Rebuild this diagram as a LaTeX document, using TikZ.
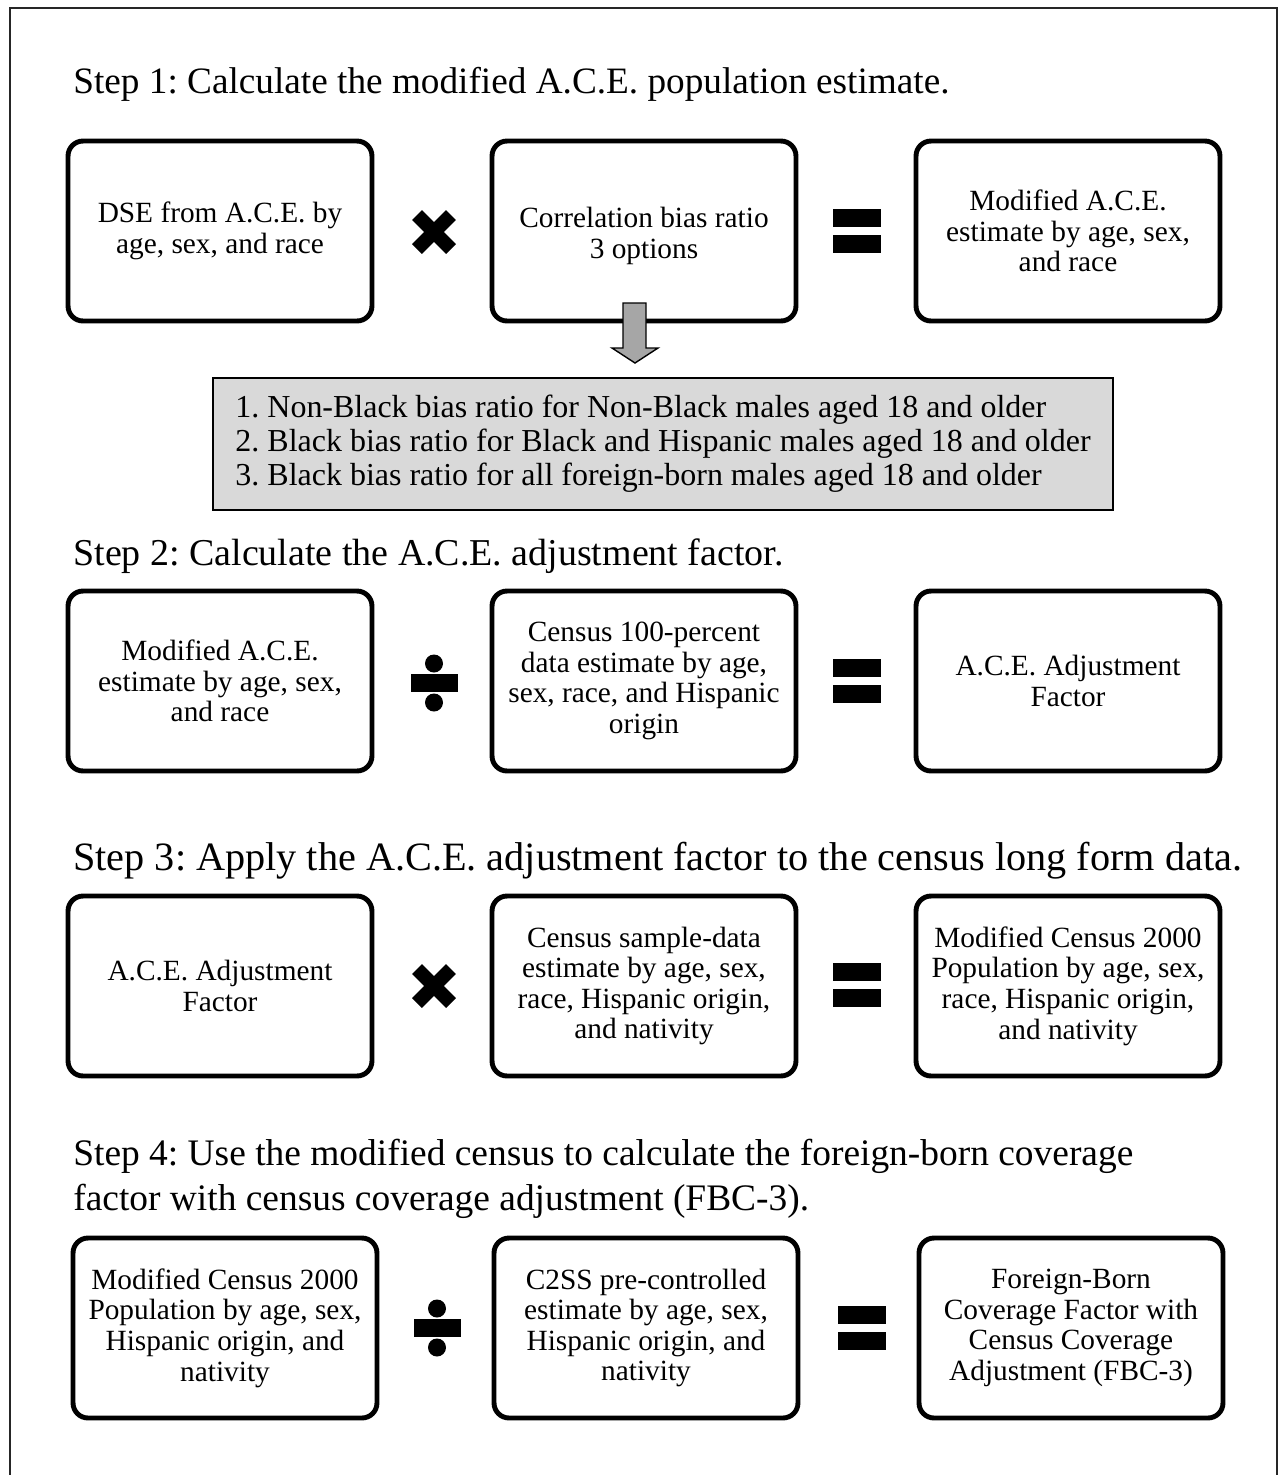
\documentclass[tikz,border=0pt]{standalone}
\usepackage{fontspec}
\setmainfont{Liberation Serif}
\usetikzlibrary{positioning}
\definecolor{optgray}{HTML}{D9D9D9}
\definecolor{arrgray}{HTML}{A6A6A6}
\tikzset{
    % operator signs, drawn at their centre
    timesop/.pic = {
      \draw[line width=0.28cm] (-17,-17) -- (17,17) (-17,17) -- (17,-17);
    },
    eqop/.pic = {
      \fill (-24,-22) rectangle (24,-4);
      \fill (-24,4) rectangle (24,22);
    },
    divop/.pic = {
      \fill (-23.5,-9) rectangle (23.5,9);
      \fill (0,-19.5) circle (0.18cm);
      \fill (0,19.5) circle (0.18cm);
    },
}
\frenchspacing

\begin{document}
\begin{tikzpicture}[x=0.02cm, y=-0.02cm,
    box/.style = {draw, line width=2.8pt, rounded corners=0.3cm, align=center,
                  minimum width=6.08cm, minimum height=3.6cm, inner sep=2pt,
                  font=\fontsize{16.7}{17.4}\selectfont},
    steptxt/.style = {anchor=base west, inner sep=0pt, align=left,
                      font=\fontsize{#1}{25.5}\selectfont},
    steptxt/.default = 21.2,
    optbox/.style = {draw, line width=0.8pt, fill=optgray, align=left,
                     minimum width=18cm, minimum height=2.64cm,
                     font=\fontsize{18.2}{19.4}\selectfont},
  ]
  \useasboundingbox (0,0) rectangle (1279,1475);
  \draw[line width=1.1pt, black!85] (10,1475) -- (10,8) -- (1277,8) -- (1277,1475);

  % Step 1
  \node[steptxt] (step1) at (73,93) {Step 1: Calculate the modified A.C.E. population estimate.};
  \node[box] (dse) at (220,231) {DSE from A.C.E. by\\age, sex, and race};
  \node[box] (corr) at (644,231) {\mbox{}\\Correlation bias ratio\\3 options};
  \node[box] (modace) at (1068,231) {Modified A.C.E.\\estimate by age, sex,\\and race};
  \pic at (434,232) {timesop};
  \pic at (857,231) {eqop};
  \node[optbox] (opts) at (663,444) {1. Non-Black bias ratio for Non-Black males aged 18 and older\\
    2. Black bias ratio for Black and Hispanic males aged 18 and older\\
    3. Black bias ratio for all foreign-born males aged 18 and older};
  \draw[line width=0.8pt, fill=arrgray] (623,303) -- (646,303) -- (646,348) -- (658,348)
    -- (635,363) -- (612,348) -- (623,348) -- cycle;

  % Step 2
  \node[steptxt=21.6] (step2) at (73,565) {Step 2: Calculate the A.C.E. adjustment factor.};
  \node[box] (modace2) at (220,681) {Modified A.C.E.\\estimate by age, sex,\\and race};
  \node[box] (cen100) at (644,681) {Census 100-percent\\data estimate by age,\\sex, race, and Hispanic\\origin};
  \node[box] (adj) at (1068,681) {A.C.E. Adjustment\\Factor};
  \pic at (434,683) {divop};
  \pic at (857,681) {eqop};

  % Step 3
  \node[steptxt=22.9] (step3) at (73,870) {Step 3: Apply the A.C.E. adjustment factor to the census long form data.};
  \node[box] (adj2) at (220,986) {A.C.E. Adjustment\\Factor};
  \node[box] (sample) at (644,986) {Census sample-data\\estimate by age, sex,\\race, Hispanic origin,\\and nativity};
  \node[box] (modcen) at (1068,986) {Modified Census 2000\\Population by age, sex,\\race, Hispanic origin,\\and nativity};
  \pic at (434,986) {timesop};
  \pic at (857,985) {eqop};

  % Step 4 (base is the second line)
  \node[steptxt=21.3] (step4) at (73,1210) {Step 4: Use the modified census to calculate the foreign-born coverage\\
    factor with census coverage adjustment (FBC-3).};
  \node[box] (modcen2) at (225,1328) {Modified Census 2000\\Population by age, sex,\\Hispanic origin, and\\nativity};
  \node[box] (c2ss) at (646,1328) {C2SS pre-controlled\\estimate by age, sex,\\Hispanic origin, and\\nativity};
  \node[box] (fbc) at (1071,1328) {Foreign-Born\\Coverage Factor with\\Census Coverage\\Adjustment (FBC-3)};
  \pic at (437,1328) {divop};
  \pic at (862,1328) {eqop};
\end{tikzpicture}
\end{document}
